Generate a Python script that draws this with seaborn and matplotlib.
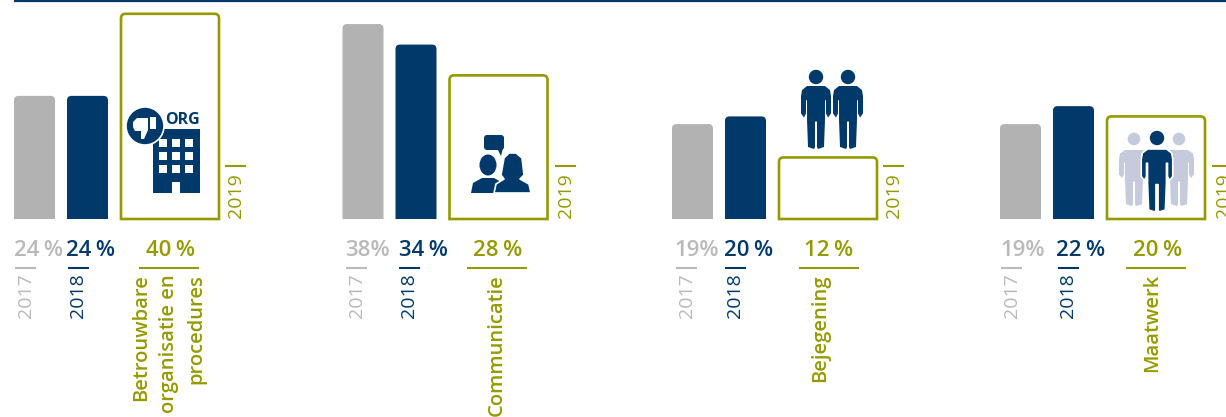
"""Klachten per thema, 2017-2019: four small bar groups with icons."""
import matplotlib
matplotlib.use("Agg")
import matplotlib.pyplot as plt
import seaborn as sns
from matplotlib.path import Path
from matplotlib.patches import PathPatch, Circle, Rectangle, Polygon, FancyBboxPatch, Ellipse

# data
years = ["2017", "2018", "2019"]
themes = ["Betrouwbare\norganisatie en\nprocedures", "Communicatie", "Bejegening", "Maatwerk"]
values_2017 = [24, 38, 18.5, 18.5]
values_2018 = [24, 34, 20, 22]
values_2019 = [40, 28, 12, 20]
labels_2017 = ["24\u2009%", "38%", "19%", "19%"]
labels_2018 = ["24\u2009%", "34\u2009%", "20\u2009%", "22\u2009%"]
labels_2019 = ["40\u2009%", "28\u2009%", "12\u2009%", "20\u2009%"]

GREY = "#b2b2b2"
GREY_TXT = "#b9b9b9"
NAVY = "#01396a"
OLIVE = "#959a00"
PALE = "#c5cbdc"

W, H = 1226, 417
BASE = 219       # baseline in px from top
PX_PER_PCT = 5.13
SPACING = 53     # px between the 2017 and 2018 bar centres
BAR_W = 41
WIDE_W = 98
WIDE_LEFT = 107

# x layout of each group, px
group_x = [14, 342.5, 672, 1000]
tick_2017 = [15, 346, 676, 1001]
tick_2018 = [68, 399, 725, 1058]
rule_x = [139, 467, 799, 1126]
pct_2017_x = [38, 367, 697, 1023]
pct_2018_x = [91, 423, 749, 1081]
pct_2019_x = [170, 498, 829, 1158]
theme_x = [169, 497, 820, 1152]
tick_2019 = [225, 555, 883, 1212]

sns.set_theme(style="white")
plt.rcParams["font.family"] = ["Open Sans", "DejaVu Sans"]

fig = plt.figure(figsize=(W / 100, H / 100), dpi=100)


def top_rounded(x0, x1, y1, rx, ry):
    verts = [(x0, 0), (x0, y1 - ry), (x0, y1), (x0 + rx, y1), (x1 - rx, y1), (x1, y1),
             (x1, y1 - ry), (x1, 0), (x0, 0)]
    codes = [Path.MOVETO, Path.LINETO, Path.CURVE3, Path.CURVE3, Path.LINETO,
             Path.CURVE3, Path.CURVE3, Path.LINETO, Path.CLOSEPOLY]
    return Path(verts, codes)


for i, left in enumerate(group_x):
    ax_w = 240
    ax = fig.add_axes([left / W, (H - BASE) / H, ax_w / W, BASE / H])
    vals = [values_2017[i], values_2018[i], values_2019[i]]
    sns.barplot(x=years, y=vals, hue=years, palette=[GREY, NAVY, "white"], saturation=1,
                width=BAR_W / SPACING, legend=False, ax=ax)
    ax.set_xlim(-(BAR_W / 2) / SPACING, (ax_w - BAR_W / 2) / SPACING)
    ax.set_ylim(0, BASE / PX_PER_PCT)
    ax.axis("off")
    ax.patch.set_alpha(0)

    rx, ry = 4.5 / SPACING, 4.5 / PX_PER_PCT
    bars = [b for c in ax.containers for b in c]
    for j, bar in enumerate(bars):
        x0, w, h = bar.get_x(), bar.get_width(), bar.get_height()
        bar.set_visible(False)
        if j == 2:
            x0 = (WIDE_LEFT - BAR_W / 2) / SPACING
            w = WIDE_W / SPACING
            ax.add_patch(PathPatch(top_rounded(x0, x0 + w, h, rx, ry), facecolor="none",
                                   edgecolor=OLIVE, lw=1.9, clip_on=False, joinstyle="miter"))
        else:
            ax.add_patch(PathPatch(top_rounded(x0, x0 + w, h, rx, ry),
                                   facecolor=bar.get_facecolor(), edgecolor="none"))

# overlay in pixel coordinates for texts and icons
ov = fig.add_axes([0, 0, 1, 1])
ov.set_xlim(0, W)
ov.set_ylim(H, 0)
ov.axis("off")
ov.patch.set_alpha(0)

ov.plot([14, W], [0.5, 0.5], color=NAVY, lw=1.6, solid_capstyle="butt")

for i in range(4):
    ov.text(pct_2017_x[i], 250, labels_2017[i], color=GREY_TXT, fontsize=16, fontweight="semibold",
            ha="center", va="center")
    ov.text(pct_2018_x[i], 250, labels_2018[i], color=NAVY, fontsize=16, fontweight="semibold",
            ha="center", va="center")
    ov.text(pct_2019_x[i], 250, labels_2019[i], color=OLIVE, fontsize=16, fontweight="semibold",
            ha="center", va="center")
    ov.plot([tick_2017[i], tick_2017[i] + 21], [268, 268], color=GREY_TXT, lw=1.5, solid_capstyle="butt")
    ov.plot([tick_2018[i], tick_2018[i] + 21], [268, 268], color=NAVY, lw=1.5, solid_capstyle="butt")
    ov.plot([rule_x[i], rule_x[i] + 60], [268, 268], color=OLIVE, lw=1.5, solid_capstyle="butt")
    ov.plot([tick_2019[i], min(tick_2019[i] + 21, W)], [166, 166], color=OLIVE, lw=1.5, solid_capstyle="butt")
    ov.text(tick_2017[i] + 11, 273, years[0], color=GREY_TXT, fontsize=14, fontweight="normal",
            rotation=90, ha="center", va="top")
    ov.text(tick_2018[i] + 10, 273, years[1], color=NAVY, fontsize=14, fontweight="normal",
            rotation=90, ha="center", va="top")
    ov.text(tick_2019[i] + 11.5, 173, years[2], color=OLIVE, fontsize=14, fontweight="normal",
            rotation=90, ha="center", va="top", clip_on=True)
    ov.text(theme_x[i], 274, themes[i], color=OLIVE, fontsize=14.5, fontweight="semibold",
            rotation=90, ha="center", va="top", multialignment="right", linespacing=1.5)


def person(cx, head_y, head_r, top, feet, scale_x, color, edge="none"):
    sy = (feet - top) / 62
    pts = [(-9, 0), (-14, 4), (-15, 10), (-15, 27), (-12, 31), (-10, 27), (-10, 14), (-9, 14),
           (-9, 33), (-8, 60), (-2, 62), (-1, 60), (-1, 35), (1, 35), (1, 60), (2, 62), (8, 60),
           (9, 33), (9, 14), (10, 14), (10, 27), (12, 31), (15, 27), (15, 10), (14, 4), (9, 0)]
    xy = [(cx + px * scale_x, top + py * sy) for px, py in pts]
    ov.add_patch(Polygon(xy, closed=True, facecolor=color, edgecolor=edge,
                         lw=1.2 if edge != "none" else 0, joinstyle="round"))
    ov.add_patch(Circle((cx, head_y), head_r, facecolor=color, edgecolor="none"))


# icon 1: building with thumbs down
ov.add_patch(Rectangle((153, 129), 47, 64, facecolor=NAVY, edgecolor="none"))
for wy in [139, 152, 165]:
    for wx in [159, 172, 185]:
        ov.add_patch(Rectangle((wx, wy), 8, 8, facecolor="white", edgecolor="none"))
ov.add_patch(Rectangle((172, 182), 8, 11, facecolor="white", edgecolor="none"))
ov.add_patch(Circle((145, 126), 19, facecolor=NAVY, edgecolor="white", lw=1.2))
ov.add_patch(Rectangle((150, 117), 6, 12, facecolor="white", edgecolor="none"))
ov.add_patch(Polygon([(137, 118), (148, 118), (148, 130), (144, 139), (141, 139), (141, 131),
                      (135, 131), (133, 127), (133, 122)], closed=True, facecolor="white",
                     edgecolor="none"))
ov.text(182, 119.5, "ORG", color=NAVY, fontsize=11.5, fontweight="bold", ha="center", va="center")

# icon 2: two people talking
ov.add_patch(FancyBboxPatch((486, 137), 16, 11, boxstyle="round,pad=2,rounding_size=3",
                            facecolor=NAVY, edgecolor="none"))
ov.add_patch(Polygon([(497, 148), (503, 148), (501, 156)], closed=True, facecolor=NAVY, edgecolor="none"))
ov.add_patch(Ellipse((488, 165), 17, 21, facecolor=NAVY, edgecolor="none"))
ov.add_patch(Polygon([(471, 193), (473, 183), (482, 178), (494, 178), (503, 183), (503, 193)],
                     closed=True, facecolor=NAVY, edgecolor="none"))
ov.add_patch(Polygon([(494, 193), (496, 184), (504, 179), (501, 175), (504, 158), (509, 153),
                      (516, 153), (522, 158), (524, 175), (520, 179), (529, 184), (531, 193)],
                     closed=True, facecolor=NAVY, edgecolor="white", lw=1.2, joinstyle="round"))

# icon 3: two men on the box
person(816, 77, 7.2, 86, 149, 1.0, NAVY)
person(848, 77, 7.2, 86, 149, 1.0, NAVY)

# icon 4: custom work, one out of three
person(1134, 139, 6.3, 150, 206, 1.0, PALE)
person(1179, 139, 6.3, 150, 206, 1.0, PALE)
person(1157, 138, 7.2, 149, 212, 1.05, NAVY, edge="white")

fig.savefig("out.png", dpi=100)
plt.close(fig)
